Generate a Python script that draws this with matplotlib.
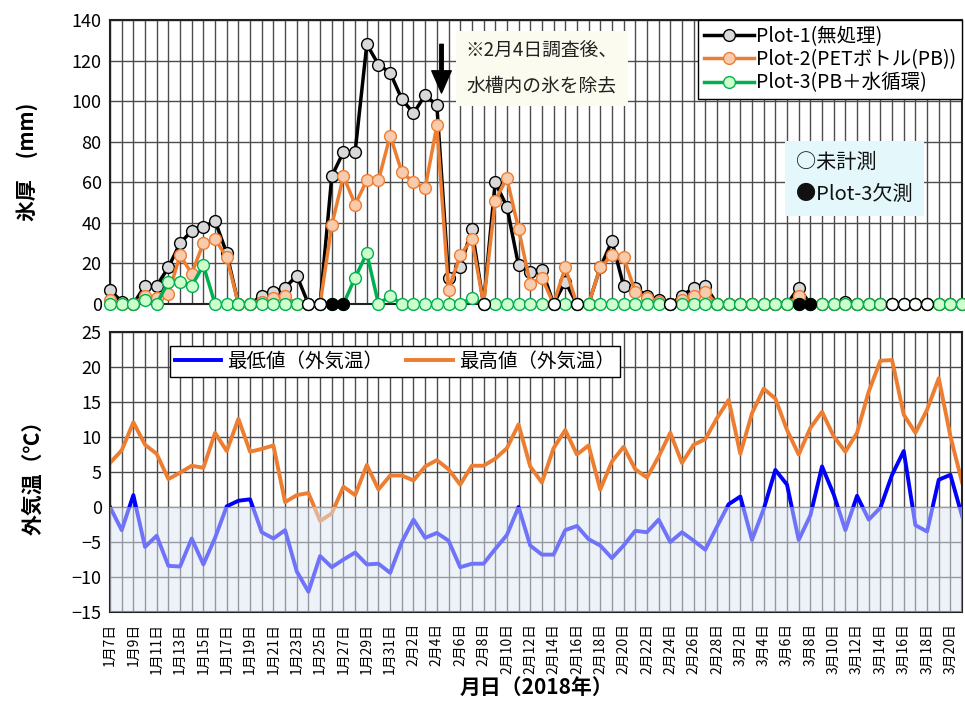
import numpy as np
import pandas as pd
import matplotlib
matplotlib.use('Agg')
import matplotlib.pyplot as plt

plt.rcParams['font.family'] = ['Noto Sans CJK JP', 'DejaVu Sans']

# 日付（2018/1/7〜3/21）
dates = pd.date_range('2018-01-07', periods=74, freq='D')
date_labels = [f'{d.month}月{d.day}日' for d in dates]

# 氷厚 (mm)
plot1 = [7, 1, 0, 9, 9, 18, 30, 36, 38, 41, 25, 0, 0, 4, 6, 8, 14, 0, 0, 63,
         75, 75, 128, 118, 114, 101, 94, 103, 98, 13, 18, 37, 0, 60, 48, 19, 16, 17, 0, 11,
         0, 0, 18, 31, 9, 8, 4, 2, 0, 4, 8, 9, 0, 0, 0, 0, 0, 0, 0, 8,
         0, 0, 0, 1, 0, 0, 0, 0, 0, 0, 0, 0, 0, 0]
plot2 = [2, 0, 0, 4, 3, 5, 24, 15, 30, 32, 23, 0, 0, 1, 3, 4, 0, 0, 0, 39,
         63, 49, 61, 61, 83, 65, 60, 57, 88, 7, 24, 32, 0, 51, 62, 37, 10, 13, 0, 18,
         0, 0, 18, 24, 23, 6, 3, 1, 0, 2, 4, 6, 0, 0, 0, 0, 0, 0, 0, 4,
         0, 0, 0, 0, 0, 0, 0, 0, 0, 0, 0, 0, 0, 0]
plot3 = [0, 0, 0, 2, 0, 11, 11, 9, 19, 0, 0, 0, 0, 0, 0, 0, 0, 0, 0, 0,
         0, 13, 25, 0, 4, 0, 0, 0, 0, 0, 0, 3, 0, 0, 0, 0, 0, 0, 0, 0,
         0, 0, 0, 0, 0, 0, 0, 0, 0, 0, 0, 0, 0, 0, 0, 0, 0, 0, 0, 0,
         0, 0, 0, 0, 0, 0, 0, 0, 0, 0, 0, 0, 0, 0]
unmeasured = [17, 18, 32, 38, 40, 48, 67, 68, 69, 70]   # ○未計測
missing3 = [19, 20, 59, 60]                              # ●Plot-3欠測

# 外気温 (℃)
tmax = [6.3, 8.1, 12.1, 8.9, 7.6, 4.0, 4.9, 5.9, 5.6, 10.6, 8.0, 12.6, 7.9, 8.3, 8.8, 0.7, 1.7, 2.0, -2.0, -0.9,
        2.9, 1.7, 6.0, 2.5, 4.5, 4.5, 3.8, 5.8, 6.7, 5.4, 3.2, 5.9, 5.9, 6.9, 8.4, 11.8, 5.8, 3.5, 8.4, 11.0,
        7.5, 8.8, 2.5, 6.5, 8.6, 5.4, 4.2, 7.2, 10.6, 6.3, 8.9, 9.7, 12.7, 15.3, 7.6, 13.4, 16.9, 15.5, 11.0, 7.5,
        11.3, 13.6, 10.1, 7.9, 10.6, 16.5, 20.9, 21.0, 13.2, 10.6, 13.9, 18.4, 10.1, 3.5]
tmin = [0.0, -3.3, 1.7, -5.7, -4.1, -8.4, -8.5, -4.5, -8.2, -4.4, 0.1, 0.9, 1.1, -3.6, -4.5, -3.3, -9.2, -12.1, -7.0, -8.6,
        -7.5, -6.5, -8.2, -8.1, -9.4, -5.0, -1.8, -4.4, -3.7, -4.8, -8.6, -8.1, -8.1, -6.0, -4.0, 0.0, -5.5, -6.8, -6.8, -3.3,
        -2.7, -4.6, -5.5, -7.3, -5.5, -3.4, -3.6, -1.8, -5.0, -3.6, -4.8, -6.1, -2.8, 0.4, 1.5, -4.7, -0.3, 5.3, 3.2, -4.7,
        -1.2, 5.8, 1.8, -3.3, 1.6, -1.8, -0.1, 4.6, 8.0, -2.6, -3.5, 3.9, 4.6, -1.3]

x = np.arange(len(dates))

fig = plt.figure(figsize=(9.65, 7.06), dpi=100)
ax1 = fig.add_axes([0.114, 0.5694, 0.883, 0.4023])
ax2 = fig.add_axes([0.114, 0.1331, 0.883, 0.3966])

grid_kw = dict(color='#4d4d4d', linewidth=1.0)

# ---- 上段：氷厚 ----
ms = 8.5
ax1.plot(x, plot1, color='black', lw=2.5, marker='o', ms=ms, mfc='#d9d9d9', mec='black', mew=1.0,
         label='Plot-1(無処理)', clip_on=False, zorder=4)
ax1.plot(x, plot2, color='#ed7d31', lw=2.5, marker='o', ms=ms, mfc='#f8cbad', mec='#ed7d31', mew=1.0,
         label='Plot-2(PETボトル(PB))', clip_on=False, zorder=5)
ax1.plot(x, plot3, color='#00b050', lw=2.5, marker='o', ms=ms, mfc='#ccffcc', mec='#00b050', mew=1.0,
         label='Plot-3(PB＋水循環)', clip_on=False, zorder=6)
ax1.plot(x[unmeasured], np.zeros(len(unmeasured)), 'o', ms=ms, mfc='white', mec='black', mew=1.0,
         clip_on=False, zorder=7)
ax1.plot(x[missing3], np.zeros(len(missing3)), 'o', ms=ms, mfc='black', mec='black', mew=1.0,
         clip_on=False, zorder=7)

ax1.set_xlim(0, 73)
ax1.set_ylim(0, 140)
ax1.set_yticks(range(0, 141, 20))
ax1.set_xticks(x)
ax1.set_xticklabels([])
ax1.set_axisbelow(True)
ax1.grid(True, **grid_kw)
ax1.tick_params(length=0, labelsize=13, pad=6)
for s in ax1.spines.values():
    s.set_color('#222222')
    s.set_linewidth(1.5)
ax1.set_ylabel('氷厚　(mm)', fontsize=15, fontweight='bold', labelpad=24)

leg1 = ax1.legend(loc='upper right', fontsize=14, frameon=True, fancybox=False, framealpha=1,
                  edgecolor='black', borderaxespad=0, handlelength=2.6, handletextpad=0.1,
                  labelspacing=0.12, borderpad=0.3)
leg1.get_frame().set_linewidth(1.0)

ax1.text(37.0, 116, '※2月4日調査後、\n水槽内の氷を除去', ha='center', va='center', fontsize=13.5,
         linespacing=1.8, color='#222222',
         bbox=dict(boxstyle='square,pad=0.55', facecolor='#fbfbef', edgecolor='none'), zorder=8)
ax1.annotate('', xy=(28.4, 104), xytext=(28.4, 128),
             arrowprops=dict(facecolor='black', edgecolor='black', width=2.5, headwidth=14, headlength=16),
             zorder=8)
ax1.text(58.8, 62, '○未計測\n●Plot-3欠測', ha='left', va='center', fontsize=14.5,
         linespacing=1.7, color='#111111',
         bbox=dict(boxstyle='square,pad=0.55', facecolor='#e4f8fc', edgecolor='none'), zorder=8)

# ---- 下段：外気温 ----
ax2.plot(x, tmin, color='#0000ff', lw=2.8, label='最低値（外気温）', zorder=2)
ax2.plot(x, tmax, color='#ed7d31', lw=2.8, label='最高値（外気温）', zorder=2)
ax2.axhspan(-15, 0, facecolor=(220/255, 230/255, 245/255), alpha=0.5, zorder=3, lw=0)

ax2.set_xlim(0, 73)
ax2.set_ylim(-15, 25)
ax2.set_yticks(range(-15, 26, 5))
ax2.set_xticks(x)
ax2.set_xticklabels([lab if i % 2 == 0 else '' for i, lab in enumerate(date_labels)],
                    rotation=90, fontsize=10)
ax2.set_axisbelow(True)
ax2.grid(True, **grid_kw)
ax2.tick_params(axis='y', length=0, labelsize=13, pad=6)
ax2.tick_params(axis='x', length=0, pad=8)
for s in ax2.spines.values():
    s.set_color('#222222')
    s.set_linewidth(1.5)
ax2.set_ylabel('外気温（℃）', fontsize=15, fontweight='bold', labelpad=20)
ax2.set_xlabel('月日（2018年）', fontsize=15, fontweight='bold', labelpad=2)

leg2 = ax2.legend(loc='upper left', bbox_to_anchor=(0.07, 0.95), ncol=2, fontsize=14, frameon=True,
                  fancybox=False, framealpha=1, edgecolor='black', borderaxespad=0,
                  handlelength=2.4, handletextpad=0.3, columnspacing=1.2, borderpad=0.25)
leg2.get_frame().set_linewidth(1.0)
leg2.set_zorder(10)

fig.savefig('out.png', dpi=100)
